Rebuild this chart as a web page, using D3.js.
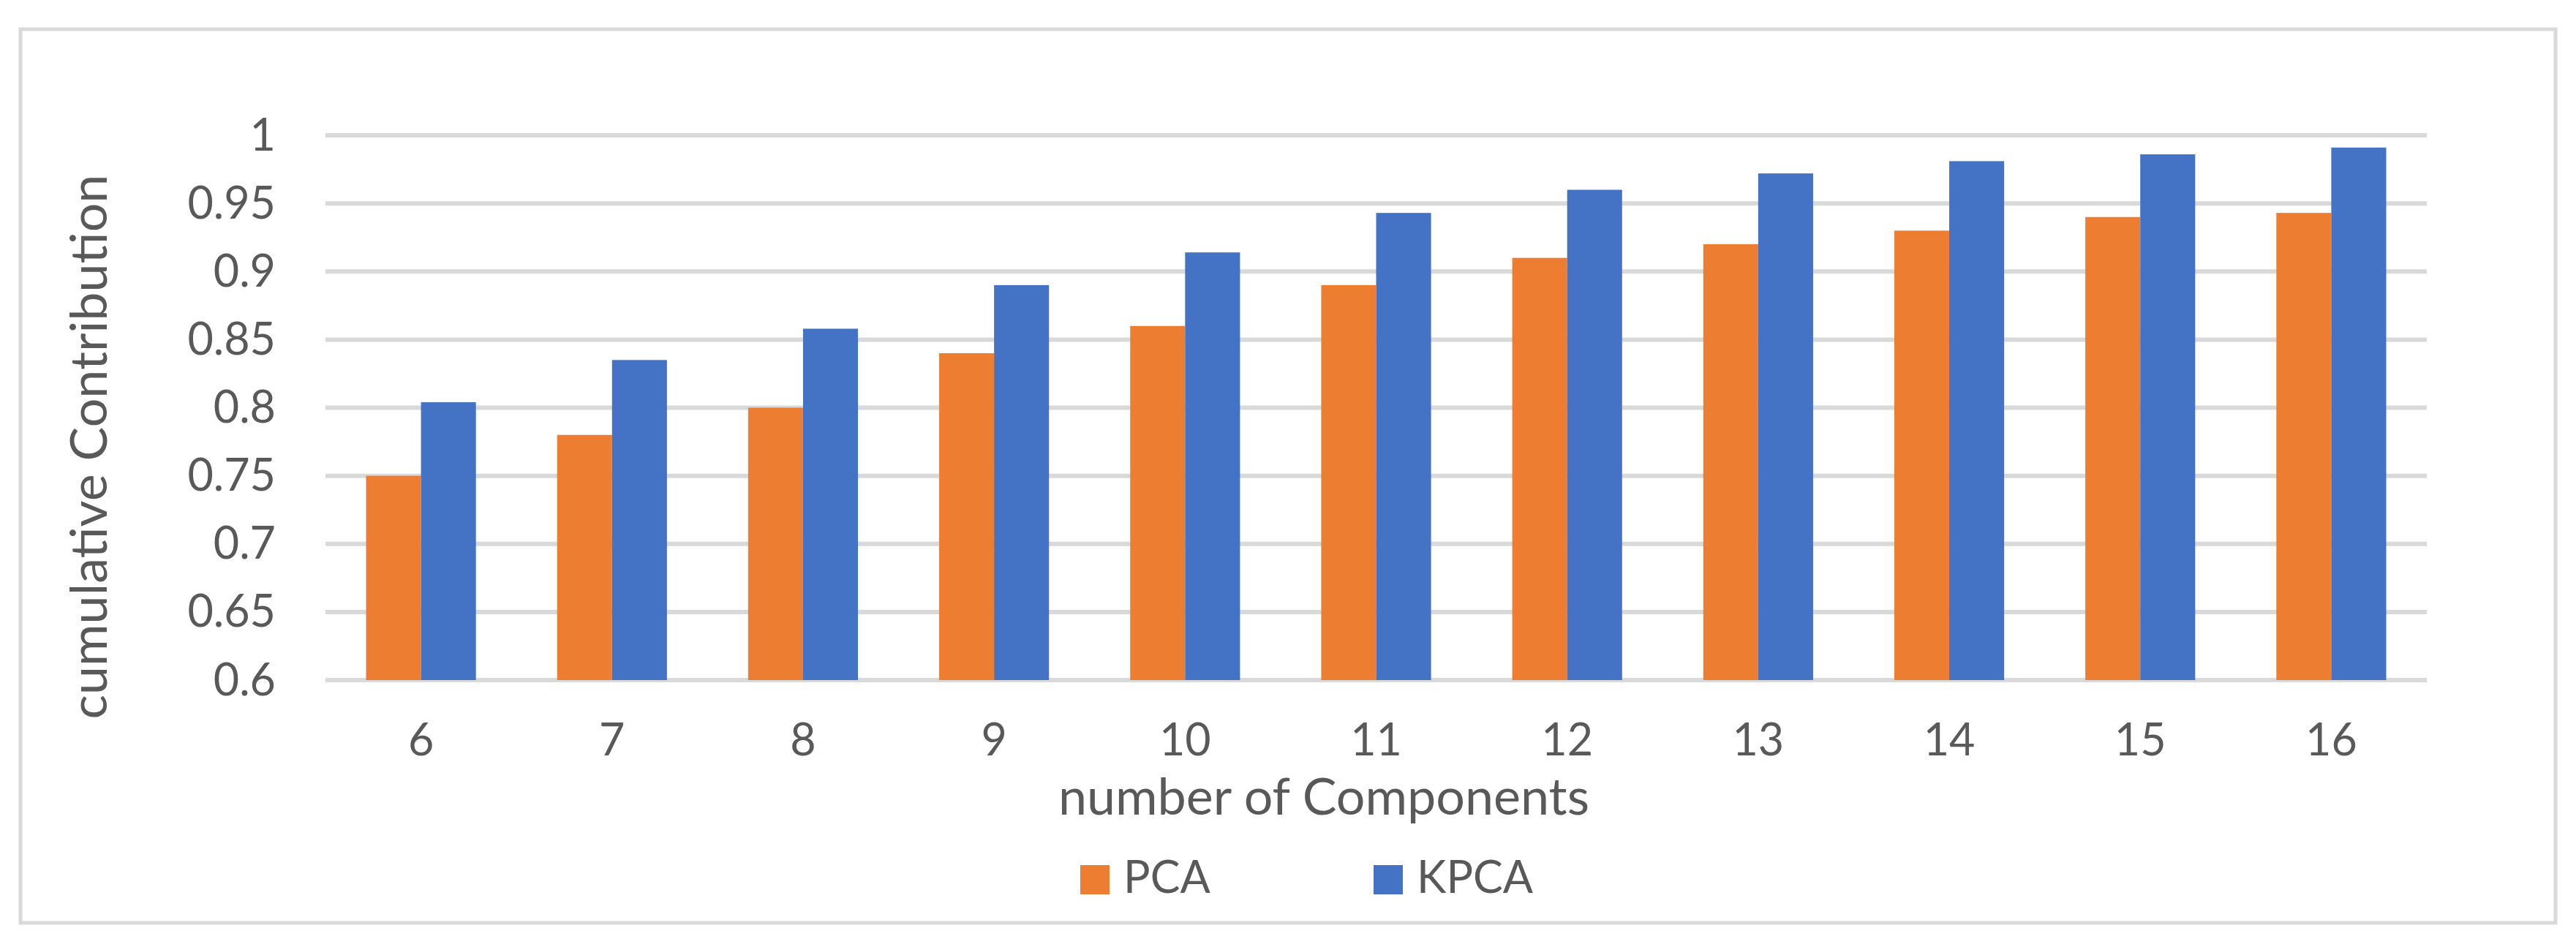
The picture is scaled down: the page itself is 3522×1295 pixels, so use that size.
<!DOCTYPE html>
<html>
<head>
<meta charset="utf-8">
<script src="https://d3js.org/d3.v7.min.js"></script>
<style>
  body { margin: 0; background: #fff; }
  text { font-family: Lato, "Open Sans", sans-serif; fill: #595959; }
  .grid line { stroke: #d9d9d9; stroke-width: 6; }
</style>
</head>
<body>
<div id="chart"></div>
<script>
var categories = ["6", "7", "8", "9", "10", "11", "12", "13", "14", "15", "16"];
var series = ["PCA", "KPCA"];
var pcaValues = [0.75, 0.78, 0.80, 0.84, 0.86, 0.89, 0.91, 0.92, 0.93, 0.94, 0.943];
var kpcaValues = [0.804, 0.835, 0.858, 0.89, 0.914, 0.943, 0.96, 0.972, 0.981, 0.986, 0.991];
var yTicks = [0.6, 0.65, 0.7, 0.75, 0.8, 0.85, 0.9, 0.95, 1];
var colors = ["#ed7d31", "#4472c4"];

var width = 3522, height = 1295;
var plot = {left: 445, right: 3318, top: 185, bottom: 930};

var data = categories.map(function(c, i) {
    return {cat: c, values: [pcaValues[i], kpcaValues[i]]};
});

var svg = d3.select("#chart").append("svg")
    .attr("width", width)
    .attr("height", height);

// chart frame
svg.append("rect")
    .attr("x", 28).attr("y", 40)
    .attr("width", 3466).attr("height", 1222)
    .attr("fill", "#fff")
    .attr("stroke", "#d9d9d9")
    .attr("stroke-width", 5);

var x0 = d3.scaleBand()
    .domain(categories)
    .range([plot.left, plot.right])
    .paddingInner(0.425)
    .paddingOuter(0.2125);

var x1 = d3.scaleBand()
    .domain(series)
    .range([0, x0.bandwidth()]);

var y = d3.scaleLinear()
    .domain([0.6, 1])
    .range([plot.bottom, plot.top]);

// gridlines
svg.append("g")
    .attr("class", "grid")
    .selectAll("line")
    .data(yTicks)
    .enter().append("line")
    .attr("x1", plot.left)
    .attr("x2", plot.right)
    .attr("y1", function(d) { return y(d); })
    .attr("y2", function(d) { return y(d); });

// bars
svg.append("g")
    .selectAll("g")
    .data(data)
    .enter().append("g")
    .attr("transform", function(d) { return "translate(" + x0(d.cat) + ",0)"; })
    .selectAll("rect")
    .data(function(d) { return d.values.map(function(v, j) { return {s: series[j], v: v, j: j}; }); })
    .enter().append("rect")
    .attr("x", function(d) { return x1(d.s); })
    .attr("width", x1.bandwidth())
    .attr("y", function(d) { return y(d.v); })
    .attr("height", function(d) { return y(0.6) - y(d.v); })
    .attr("fill", function(d) { return colors[d.j]; });

// y axis labels
var yAxis = d3.axisLeft(y)
    .tickValues(yTicks)
    .tickSize(0)
    .tickPadding(0)
    .tickFormat(function(d) { return String(d); });

var gy = svg.append("g")
    .attr("transform", "translate(377,0)")
    .call(yAxis);
gy.select(".domain").remove();
gy.selectAll("text")
    .attr("font-size", 61)
    .attr("font-family", null)
    .attr("dy", "20")
    .attr("x", 0);

// x axis labels
var xAxis = d3.axisBottom(x0)
    .tickSize(0)
    .tickPadding(0);

var gx = svg.append("g")
    .call(xAxis);
gx.select(".domain").remove();
gx.selectAll("text")
    .attr("font-size", 61)
    .attr("font-family", null)
    .attr("y", 1033)
    .attr("dy", null);

// axis titles
svg.append("text")
    .attr("x", 1810)
    .attr("y", 1114)
    .attr("text-anchor", "middle")
    .attr("font-size", 70)
    .text("number of Components");

svg.append("text")
    .attr("transform", "translate(146,611) rotate(-90)")
    .attr("text-anchor", "middle")
    .attr("font-size", 70)
    .text("cumulative Contribution");

// legend
var legendX = [1477, 1878];
var legend = svg.append("g")
    .selectAll("g")
    .data(series)
    .enter().append("g")
    .attr("transform", function(d, i) { return "translate(" + legendX[i] + ",1183)"; });

legend.append("rect")
    .attr("width", 40)
    .attr("height", 40)
    .attr("fill", function(d, i) { return colors[i]; });

legend.append("text")
    .attr("x", 59)
    .attr("y", 38)
    .attr("font-size", 61)
    .text(function(d) { return d; });
</script>
</body>
</html>
